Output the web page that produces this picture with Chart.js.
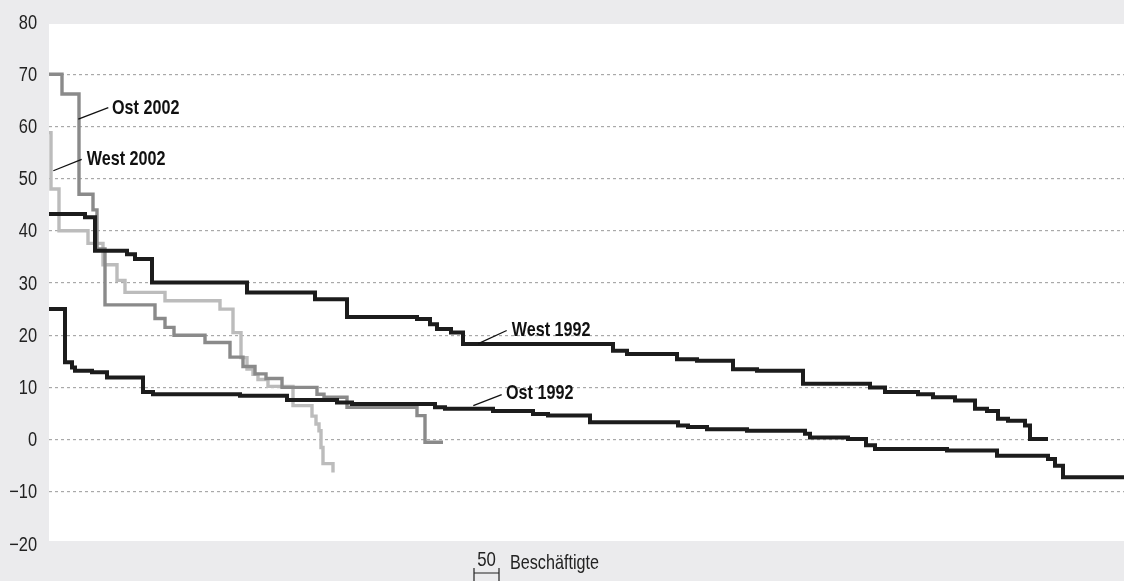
<!DOCTYPE html>
<html>
<head>
<meta charset="utf-8">
<script src="https://cdn.jsdelivr.net/npm/chart.js@4.4.1/dist/chart.umd.min.js"></script>
<style>
  html, body { margin: 0; padding: 0; background: #ebebed; }
  #wrap { width: 1124px; height: 581px; }
</style>
</head>
<body>
<div id="wrap"><canvas id="chart" width="1124" height="581"></canvas></div>
<script>
// x = Beschäftigte (kumuliert), y = Wert; each point starts a step, last point = end of series
const west1992X = [0, 72, 92, 156, 172, 206, 396, 532, 596, 736, 762, 776, 804, 828, 1128, 1156, 1256, 1296, 1368, 1416, 1508, 1642, 1672, 1738, 1768, 1812, 1852, 1876, 1898, 1918, 1952, 1962, 1998]
const west1992Y = [43.2, 42.6, 36.2, 35.5, 34.6, 30.1, 28.2, 26.9, 23.5, 23.1, 22.1, 21.2, 20.5, 18.3, 17, 16.4, 15.4, 15.1, 13.5, 13.2, 10.7, 10, 9.1, 8.7, 8.1, 7.5, 5.9, 5.5, 4, 3.6, 2.7, 0.1, 0.1]

const ost1992X = [0, 32, 46, 52, 86, 116, 188, 208, 382, 476, 576, 606, 772, 792, 888, 968, 998, 1082, 1258, 1278, 1316, 1396, 1512, 1522, 1598, 1634, 1652, 1796, 1896, 1998, 2012, 2028, 2150]
const ost1992Y = [25, 14.8, 13.8, 13.2, 12.9, 11.9, 9.1, 8.7, 8.4, 7.6, 7.1, 6.8, 6.2, 5.9, 5.5, 4.9, 4.6, 3.3, 2.7, 2.4, 2.0, 1.7, 1.1, 0.4, 0.1, -1.1, -1.8, -2.1, -3.1, -3.7, -5.0, -7.2, -7.2]

const ost2002X = [0, 26, 60, 88, 96, 112, 212, 232, 250, 312, 362, 388, 412, 434, 466, 536, 550, 596, 736, 752, 788]
const ost2002Y = [70, 66.2, 47, 44, 36.5, 25.8, 23.2, 21.5, 20, 18.6, 15.8, 14, 12.6, 11.7, 10, 8.7, 8.1, 6.2, 4.6, -0.5, -0.5]

const west2002X = [0, 4, 20, 78, 108, 136, 152, 232, 342, 368, 384, 396, 408, 418, 438, 488, 526, 534, 540, 544, 548, 568]
const west2002Y = [58.8, 48, 40, 37.6, 33.5, 30.5, 28.2, 26.6, 25, 20.5, 15.7, 13.5, 12.5, 11.5, 10.2, 6.5, 4.5, 3, 1.7, -1.5, -4.6, -6.3]

const yTicks = [80, 70, 60, 50, 40, 30, 20, 10, 0, -10, -20]

// labels: text position and leader line end (data units)
const labels = [
  { text: 'Ost 2002', tx: 126, ty: 63.6, ax: 58.6, ay: 61.4, bx: 118.6, by: 63.6 },
  { text: 'West 2002', tx: 75.4, ty: 54.0, ax: 8.6, ay: 51.5, bx: 65.4, by: 53.7 },
  { text: 'West 1992', tx: 925.4, ty: 21.2, ax: 858.6, ay: 18.4, bx: 915.4, by: 20.9 },
  { text: 'Ost 1992', tx: 914, ty: 9.05, ax: 848.6, ay: 6.5, bx: 905.4, by: 8.6 }
]
const scaleBarStart = 850
const scaleBarLen = 50
const scaleBarText = 'Beschäftigte'

const FONT = '"Liberation Sans", Arial, sans-serif'

const pts = (xs, ys) => xs.map((x, i) => ({ x: x, y: ys[i] }))

const line = (label, xs, ys, color, width) => ({
  label: label,
  data: pts(xs, ys),
  borderColor: color,
  borderWidth: width,
  stepped: true,
  pointRadius: 0,
  fill: false,
  borderJoinStyle: 'miter',
  borderCapStyle: 'butt'
})

// narrow text: squeeze horizontally like the condensed original font
const narrowText = (ctx, text, x, y, font, squeeze, align) => {
  ctx.save()
  ctx.font = font
  ctx.textBaseline = 'middle'
  ctx.textAlign = align || 'left'
  ctx.translate(x, y)
  ctx.scale(squeeze, 1)
  ctx.fillText(text, 0, 0)
  ctx.restore()
}

const plotBg = {
  id: 'plotBg',
  beforeDraw(chart) {
    const { ctx, chartArea: a } = chart
    ctx.save()
    ctx.fillStyle = '#ffffff'
    ctx.fillRect(a.left, a.top + 2, a.right - a.left, a.bottom - a.top - 5)
    ctx.restore()
  }
}

const extras = {
  id: 'extras',
  afterDatasetsDraw(chart) {
    const { ctx } = chart
    const xs = chart.scales.x
    const ys = chart.scales.y
    ctx.save()
    // y tick labels (condensed)
    ctx.fillStyle = '#222'
    ys.ticks.forEach(t => {
      narrowText(ctx, String(t.value).replace('-', '\u2212'), 37, ys.getPixelForValue(t.value) + 1, '20px ' + FONT, 0.82, 'right')
    })
    // leader lines + labels
    labels.forEach(l => {
      ctx.strokeStyle = '#111'
      ctx.lineWidth = 1.3
      ctx.beginPath()
      ctx.moveTo(xs.getPixelForValue(l.ax), ys.getPixelForValue(l.ay))
      ctx.lineTo(xs.getPixelForValue(l.bx), ys.getPixelForValue(l.by))
      ctx.stroke()
      ctx.fillStyle = '#111'
      narrowText(ctx, l.text, xs.getPixelForValue(l.tx), ys.getPixelForValue(l.ty) + 1, 'bold 21px ' + FONT, 0.77)
    })
    // scale bar under the plot
    const x0 = xs.getPixelForValue(scaleBarStart)
    const x1 = xs.getPixelForValue(scaleBarStart + scaleBarLen)
    const yb = 573
    ctx.strokeStyle = '#222'
    ctx.lineWidth = 1.2
    ctx.beginPath()
    ctx.moveTo(x0, yb); ctx.lineTo(x1, yb)
    ctx.moveTo(x0, yb - 5); ctx.lineTo(x0, yb + 9)
    ctx.moveTo(x1, yb - 5); ctx.lineTo(x1, yb + 9)
    ctx.stroke()
    ctx.fillStyle = '#222'
    narrowText(ctx, String(scaleBarLen), (x0 + x1) / 2, 560, '21px ' + FONT, 0.8, 'center')
    narrowText(ctx, scaleBarText, x1 + 11, 563, '21px ' + FONT, 0.77)
    ctx.restore()
  }
}

new Chart(document.getElementById('chart'), {
  type: 'line',
  data: {
    datasets: [
      line('West 1992', west1992X, west1992Y, '#1c1c1c', 4),
      line('Ost 1992', ost1992X, ost1992Y, '#1c1c1c', 4),
      line('Ost 2002', ost2002X, ost2002Y, '#8a8a8a', 3.4),
      line('West 2002', west2002X, west2002Y, '#bcbcbc', 3.4)
    ]
  },
  options: {
    responsive: false,
    animation: false,
    events: [],
    layout: { padding: { top: 22, bottom: 37, left: 0, right: 0 } },
    plugins: {
      legend: { display: false },
      tooltip: { enabled: false }
    },
    scales: {
      x: {
        type: 'linear',
        min: 0,
        max: 2150,
        display: false
      },
      y: {
        min: -20,
        max: 80,
        afterFit(scale) { scale.width = 49 },
        afterBuildTicks(scale) { scale.ticks = yTicks.map(v => ({ value: v })) },
        border: { display: false, dash: [3, 3] },
        grid: {
          drawTicks: false,
          color: c => (c.tick && (c.tick.value === 80 || c.tick.value === -20)) ? 'rgba(0,0,0,0)' : '#a9a9a9',
          lineWidth: 1.2
        },
        ticks: { display: false }
      }
    }
  },
  plugins: [plotBg, extras]
})
</script>
</body>
</html>
